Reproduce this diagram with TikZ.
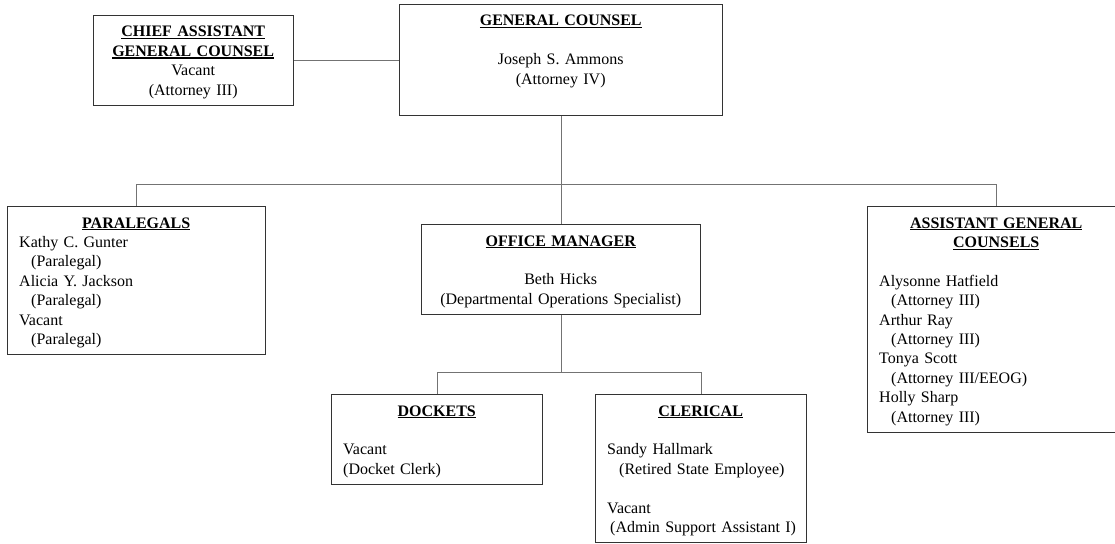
\documentclass[tikz,border=0pt]{standalone}
\usepackage{fontspec}
\setmainfont{Liberation Serif}
\usetikzlibrary{calc}
% bold, underlined heading with a slightly heavier rule
\newcommand\ttl[1]{\leavevmode\setbox0\hbox{\bfseries #1}\rlap{\rule[-2.2pt]{\wd0}{1.1pt}}\box0}
\newcommand\ind{\hspace*{12pt}}
\begin{document}
\begin{tikzpicture}[x=1pt,y=-1pt,
  box/.style={draw=black!80, line width=1.2pt, rectangle, inner sep=0pt, anchor=north west},
  txt/.style={anchor=base west, inner sep=0pt, font=\fontsize{16}{19.4}\selectfont},
  link/.style={draw=black!55, line width=1pt}]
\useasboundingbox (0,0) rectangle (1115,543);

% boxes
\node[box, minimum width=200, minimum height=90] (chief) at (93,15) {};
\node[box, minimum width=323, minimum height=111] (gc) at (399,4) {};
\node[box, minimum width=258, minimum height=148] (para) at (7,206) {};
\node[box, minimum width=279, minimum height=90] (office) at (421,224) {};
\node[box, minimum width=258, minimum height=226] (agc) at (867,206) {};
\node[box, minimum width=211, minimum height=90] (dockets) at (331,394) {};
\node[box, minimum width=211, minimum height=148] (clerical) at (595,394) {};

% texts
\node[txt, text width=176] (chieftxt) at ($(chief.north west)+(12,22)$)
  {\centering\ttl{CHIEF ASSISTANT}\par\ttl{GENERAL COUNSEL}\par Vacant\par (Attorney III)\par};
\node[txt, text width=299] (gctxt) at ($(gc.north west)+(12,22)$)
  {\centering\ttl{GENERAL COUNSEL}\par\mbox{}\par Joseph S. Ammons\par (Attorney IV)\par};
\node[txt, text width=234] (paratxt) at ($(para.north west)+(12,22)$)
  {{\centering\ttl{PARALEGALS}\par}
   Kathy C. Gunter\par\ind(Paralegal)\par
   Alicia Y. Jackson\par\ind(Paralegal)\par
   Vacant\par\ind(Paralegal)\par};
\node[txt, text width=255] (officetxt) at ($(office.north west)+(12,22)$)
  {\centering\ttl{OFFICE MANAGER}\par\mbox{}\par Beth Hicks\par (Departmental Operations Specialist)\par};
\node[txt, text width=234] (agctxt) at ($(agc.north west)+(12,22)$)
  {{\centering\ttl{ASSISTANT GENERAL}\par\ttl{COUNSELS}\par}
   \mbox{}\par
   Alysonne Hatfield\par\ind(Attorney III)\par
   Arthur Ray\par\ind(Attorney III)\par
   Tonya Scott\par\ind(Attorney III/EEOG)\par
   Holly Sharp\par\ind(Attorney III)\par};
\node[txt, text width=187] (dockettxt) at ($(dockets.north west)+(12,22)$)
  {{\centering\ttl{DOCKETS}\par}
   \mbox{}\par
   Vacant\par (Docket Clerk)\par};
\node[txt, text width=187] (clericaltxt) at ($(clerical.north west)+(12,22)$)
  {{\centering\ttl{CLERICAL}\par}
   \mbox{}\par
   Sandy Hallmark\par\ind\mbox{(Retired State Employee)}\par
   \mbox{}\par
   Vacant\par\hspace*{3pt}\mbox{(Admin Support Assistant I)}\par};

% connectors
\coordinate (bus) at (0,184);
\coordinate (bus2) at (0,372);
\draw[link] (chief.east) -- (chief.east -| gc.west);
\draw[link] (gc.south) -- (office.north);
\draw[link] (para.north) |- (agc.north |- bus) -- (agc.north);
\draw[link] (office.south) -- (office.south |- bus2);
\draw[link] (dockets.north) |- (clerical.north |- bus2) -- (clerical.north);
\end{tikzpicture}
\end{document}
